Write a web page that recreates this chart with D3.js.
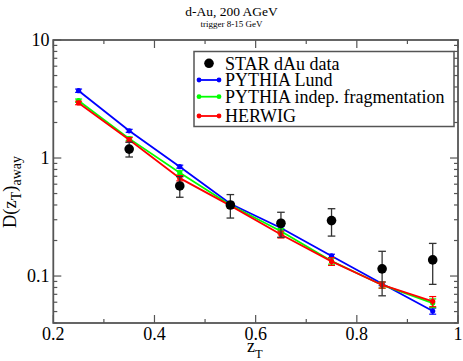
<!DOCTYPE html>
<html><head><meta charset="utf-8">
<script src="https://cdn.jsdelivr.net/npm/d3@7"></script>
<style>body{margin:0;background:#fff}svg{display:block}text{font-family:"Liberation Serif","Times New Roman",serif}</style>
</head><body>
<svg id="c" width="463" height="361"></svg>
<script>
const zT = [0.25, 0.35, 0.45, 0.55, 0.65, 0.75, 0.85, 0.95];
const starX = [0.35, 0.45, 0.55, 0.65, 0.75, 0.85, 0.95];
const starY = [1.19, 0.58, 0.40, 0.28, 0.295, 0.115, 0.137];
const starErr = [0.17, 0.115, 0.09, 0.067, 0.077, 0.047, 0.052];
const lundY = [3.72, 1.70, 0.845, 0.41, 0.255, 0.148, 0.086, 0.0505];
const lundErr = [0.12, 0.05, 0.025, 0.012, 0.008, 0.005, 0.003, 0.003];
const indepY = [3.06, 1.46, 0.75, 0.40, 0.24, 0.134, 0.084, 0.059];
const indepErr = [0.1, 0.05, 0.03, 0.015, 0.012, 0.008, 0.005, 0.005];
const herwigY = [2.93, 1.43, 0.675, 0.395, 0.225, 0.133, 0.084, 0.061];
const herwigErr = [0.1, 0.06, 0.035, 0.02, 0.015, 0.01, 0.005, 0.006];
const xTicks = [0.2, 0.4, 0.6, 0.8, 1];
const xTickLabels = ["0.2", "0.4", "0.6", "0.8", "1"];
const yTicks = [0.1, 1, 10];
const yTickLabels = ["0.1", "1", "10"];
const legendLabels = ["STAR dAu data", "PYTHIA Lund", "PYTHIA indep. fragmentation", "HERWIG"];
const colors = ["#000000", "#0000ff", "#00ff00", "#ff0000"];

const svg = d3.select("#c");
const L = 53.3, R = 458, T = 40, B = 323;
const x = d3.scaleLinear().domain([0.2, 1]).range([L, R]);
const y = d3.scaleLog().domain([0.04, 10]).range([B, T]);
const axisCol = "#555";

// titles
svg.append("text").attr("x", 231.5).attr("y", 15.5).attr("text-anchor", "middle")
  .attr("font-size", 13.5).text("d-Au, 200 AGeV");
svg.append("text").attr("x", 231.5).attr("y", 26.7).attr("text-anchor", "middle")
  .attr("font-size", 9).text("trigger 8-15 GeV");

// ticks
const g = svg.append("g");
const xMinor = d3.range(0.3, 1, 0.2);
function tickSet(vals, len) {
  vals.forEach(v => {
    const px = x(v);
    g.append("line").attr("x1", px).attr("x2", px).attr("y1", B).attr("y2", B - len).attr("stroke", axisCol).attr("stroke-width", 1.2);
    g.append("line").attr("x1", px).attr("x2", px).attr("y1", T).attr("y2", T + len).attr("stroke", axisCol).attr("stroke-width", 1.2);
  });
}
tickSet(xTicks, 8);
tickSet(xMinor, 4);
const yMinor = [];
[0.01, 0.1, 1].forEach(d => { for (let k = 2; k <= 9; k++) { const v = d * k; if (v >= 0.04 && v <= 10) yMinor.push(v); } });
function yTickSet(vals, len) {
  vals.forEach(v => {
    const py = y(v);
    g.append("line").attr("x1", L).attr("x2", L + len).attr("y1", py).attr("y2", py).attr("stroke", axisCol).attr("stroke-width", 1.2);
    g.append("line").attr("x1", R).attr("x2", R - len).attr("y1", py).attr("y2", py).attr("stroke", axisCol).attr("stroke-width", 1.2);
  });
}
yTickSet(yTicks, 8);
yTickSet(yMinor, 4);

// frame
svg.append("rect").attr("x", L).attr("y", T).attr("width", R - L).attr("height", B - T)
  .attr("fill", "none").attr("stroke", axisCol).attr("stroke-width", 1.8);

// tick labels
xTicks.forEach((v, i) => {
  svg.append("text").attr("x", x(v)).attr("y", 340).attr("text-anchor", "middle")
    .attr("font-size", 18).text(xTickLabels[i]);
});
yTicks.forEach((v, i) => {
  svg.append("text").attr("x", 49.5).attr("y", y(v) + 6).attr("text-anchor", "end")
    .attr("font-size", 18).text(yTickLabels[i]);
});

// axis titles
const xl = svg.append("text").attr("x", 247).attr("y", 352).attr("font-size", 18);
xl.append("tspan").text("z");
xl.append("tspan").attr("font-size", 12.5).attr("dy", 6).text("T");
const yl = svg.append("text").attr("transform", "translate(16,228) rotate(-90)").attr("font-size", 18.5);
yl.append("tspan").text("D(z");
yl.append("tspan").attr("font-size", 14).attr("dy", 5).text("T");
yl.append("tspan").attr("dy", -5).text(")");
yl.append("tspan").attr("font-size", 14).attr("dy", 5).text("away");

// model series
const models = [[lundY, lundErr, colors[1]], [indepY, indepErr, colors[2]], [herwigY, herwigErr, colors[3]]];
const line = d3.line().x(d => x(d[0])).y(d => y(d[1]));
models.forEach(([vals, errs, col]) => {
  const gs = svg.append("g");
  zT.forEach((zv, i) => {
    const px = x(zv), y1 = y(vals[i] + errs[i]), y2 = y(vals[i] - errs[i]);
    gs.append("line").attr("x1", px).attr("x2", px).attr("y1", y1).attr("y2", y2).attr("stroke", col).attr("stroke-width", 1.2);
    [y1, y2].forEach(yy => gs.append("line").attr("x1", px - 3.5).attr("x2", px + 3.5).attr("y1", yy).attr("y2", yy).attr("stroke", col).attr("stroke-width", 1.2));
  });
  gs.append("path").datum(zT.map((zv, i) => [zv, vals[i]])).attr("d", line)
    .attr("fill", "none").attr("stroke", col).attr("stroke-width", 1.8);
  gs.selectAll("circle").data(zT.map((zv, i) => [zv, vals[i]])).enter().append("circle")
    .attr("cx", d => x(d[0])).attr("cy", d => y(d[1])).attr("r", 2.6).attr("fill", col);
});

// STAR data
const gd = svg.append("g");
starX.forEach((zv, i) => {
  const px = x(zv), y1 = y(starY[i] + starErr[i]), y2 = y(starY[i] - starErr[i]);
  gd.append("line").attr("x1", px).attr("x2", px).attr("y1", y1).attr("y2", y2).attr("stroke", "#333").attr("stroke-width", 1.3);
  [y1, y2].forEach(yy => gd.append("line").attr("x1", px - 3.8).attr("x2", px + 3.8).attr("y1", yy).attr("y2", yy).attr("stroke", "#333").attr("stroke-width", 1.3));
  gd.append("circle").attr("cx", px).attr("cy", y(starY[i])).attr("r", 4.8).attr("fill", "#000");
});

// legend
svg.append("rect").attr("x", 194).attr("y", 51.5).attr("width", 260).attr("height", 75)
  .attr("fill", "#fff").attr("stroke", axisCol).attr("stroke-width", 1.5);
const legY = [63.3, 80, 96.7, 116];
legendLabels.forEach((lab, i) => {
  const cy = legY[i];
  if (i === 0) {
    svg.append("circle").attr("cx", 209).attr("cy", cy).attr("r", 4.8).attr("fill", "#000");
  } else {
    svg.append("line").attr("x1", 199).attr("x2", 219).attr("y1", cy).attr("y2", cy).attr("stroke", colors[i]).attr("stroke-width", 1.8);
    [199, 219].forEach(cx => svg.append("circle").attr("cx", cx).attr("cy", cy).attr("r", 2.4).attr("fill", colors[i]));
  }
  svg.append("text").attr("x", 225).attr("y", cy + 6.3).attr("font-size", 18).text(lab);
});
</script>
</body></html>
